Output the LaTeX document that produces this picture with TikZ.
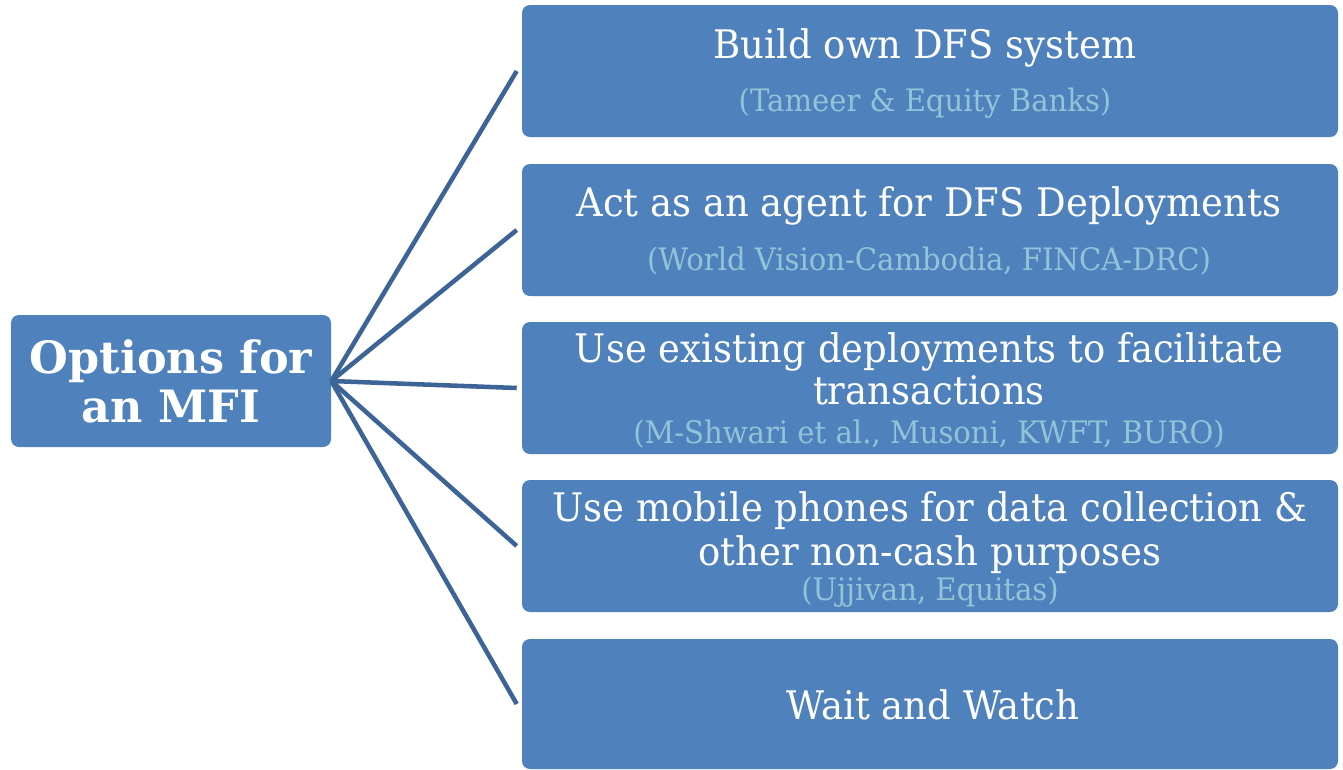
\documentclass[tikz,border=0pt]{standalone}
\usepackage{fontspec}
\setmainfont{DejaVu Serif}[FakeStretch=0.94]
\newfontfamily\headfont{DejaVu Serif}
\definecolor{boxblue}{HTML}{4F81BD}
\definecolor{linkblue}{HTML}{3C6497}
\definecolor{subcyan}{HTML}{92C4D8}
\tikzset{
  optbox/.style={fill=boxblue, rounded corners=6pt, inner sep=0pt,
    minimum width=612pt, minimum height=99pt},
  rootbox/.style={fill=boxblue, rounded corners=6pt, inner sep=0pt,
    minimum width=240pt, minimum height=99pt},
  link/.style={draw=linkblue, line width=3.4pt},
  title/.style={anchor=base, text=white, inner sep=0pt,
    font=\fontsize{29.5pt}{34pt}\selectfont},
  sub/.style={anchor=base, text=subcyan, inner sep=0pt,
    font=\fontsize{23.2pt}{27pt}\selectfont},
  roottext/.style={anchor=base, text=white, inner sep=0pt,
    font=\headfont\bfseries\fontsize{33.4pt}{40pt}\selectfont}
}
\begin{document}
\begin{tikzpicture}[x=0.75pt, y=-0.75pt]
\useasboundingbox (0,0) rectangle (1343,769);

% root box
\node[rootbox] (root) at (171,381) {};
\node[roottext] (rootA) at (171,373) {Options for};
\node[roottext] (rootB) at (171,422) {an MFI};

% option boxes
\node[optbox] (b1) at (930,71) {};
\node[optbox] (b2) at (930,230) {};
\node[optbox] (b3) at (930,388) {};
\node[optbox] (b4) at (930,546) {};
\node[optbox, minimum height=97.5pt] (b5) at (930,704) {};

% texts
\node[title] (t1) at (925,58) {Build own DFS system};
\node[sub] (s1) at (925,111) {(Tameer \& Equity Banks)};

\node[title] (t2) at (929,216) {Act as an agent for DFS Deployments};
\node[sub] (s2) at (929,270) {(World Vision-Cambodia, FINCA-DRC)};

\node[title] (t3a) at (929,362) {Use existing deployments to facilitate};
\node[title] (t3b) at (929,404) {transactions};
\node[sub] (s3) at (929,443) {(M-Shwari et al., Musoni, KWFT, BURO)};

\node[title] (t4a) at (930,521) {Use mobile phones for data collection \&};
\node[title] (t4b) at (930,565) {other non-cash purposes};
\node[sub] (s4) at (930,600) {(Ujjivan, Equitas)};

\node[title] (t5) at (933,719) {Wait and Watch};

% connectors
\foreach \b in {b1,b2,b3,b4,b5}
  \draw[link] (root.east) -- ([xshift=-3.75pt]\b.west);
\end{tikzpicture}
\end{document}
